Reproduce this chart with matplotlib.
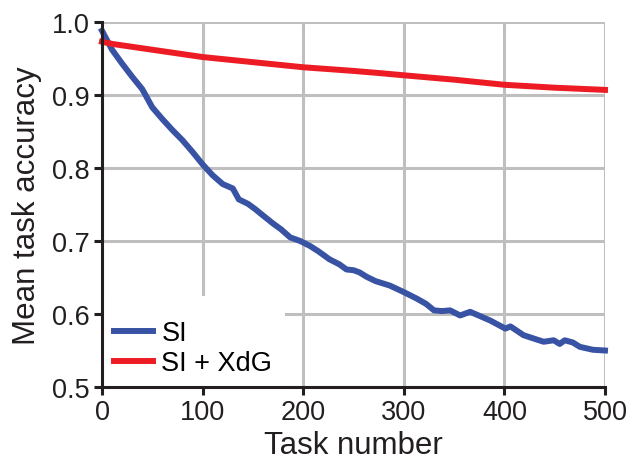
import matplotlib
matplotlib.use("Agg")
import matplotlib.pyplot as plt
from matplotlib.patches import Rectangle

plt.rcParams['font.family'] = ['Liberation Sans', 'DejaVu Sans']

# SI (blue) curve
si_x = [0, 5, 10, 20, 30, 40, 50, 60, 70, 80, 90, 100, 110, 120, 130, 136, 145,
        152, 160, 170, 178, 187, 197, 207, 215, 226, 236, 243, 250, 256, 263, 272,
        286, 300, 313, 322, 330, 338, 346, 356, 366, 376, 386, 401, 406, 419, 430,
        439, 449, 455, 460, 468, 475, 488, 500]
si_y = [0.988, 0.975, 0.962, 0.943, 0.925, 0.908, 0.883, 0.867, 0.852, 0.838, 0.822,
        0.805, 0.790, 0.778, 0.772, 0.757, 0.751, 0.744, 0.735, 0.724, 0.716, 0.705,
        0.700, 0.693, 0.686, 0.675, 0.668, 0.661, 0.660, 0.657, 0.651, 0.645, 0.639,
        0.630, 0.621, 0.614, 0.605, 0.604, 0.605, 0.598, 0.603, 0.597, 0.591, 0.580,
        0.583, 0.571, 0.566, 0.562, 0.564, 0.559, 0.564, 0.561, 0.555, 0.551, 0.550]

# SI + XdG (red) curve
xdg_x = [0, 10, 25, 50, 75, 100, 150, 200, 250, 276, 300, 350, 400, 450, 500]
xdg_y = [0.973, 0.970, 0.967, 0.962, 0.957, 0.952, 0.945, 0.938, 0.933, 0.930,
         0.927, 0.921, 0.914, 0.910, 0.907]

x_ticks = [0, 100, 200, 300, 400, 500]
y_ticks = [0.5, 0.6, 0.7, 0.8, 0.9, 1.0]

ink = '#231f20'
fig = plt.figure(figsize=(6.32, 4.64), dpi=100)
ax = fig.add_axes([102/632, 1-388/464, (605-102)/632, (388-23)/464])

ax.plot(si_x, si_y, color='#3953a4', lw=4.3, label='SI', clip_on=False, zorder=3)
ax.plot(xdg_x, xdg_y, color='#ed1c24', lw=4.3, label='SI + XdG', clip_on=False, zorder=3)

ax.set_xlim(0, 500)
ax.set_ylim(0.5, 1.0)
ax.set_xticks(x_ticks)
ax.set_yticks(y_ticks)
ax.set_yticklabels([f"{v:.1f}" for v in y_ticks])
ax.grid(True, color='#bfbfbf', lw=2.2)
ax.set_axisbelow(True)

# white box behind legend (hides gridlines)
ax.add_patch(Rectangle((0, 0), (285-102)/503, (388-297)/365, transform=ax.transAxes,
                       facecolor='white', edgecolor='none', zorder=2.5))

for s in ['top', 'right']:
    ax.spines[s].set_visible(False)
for s in ['left', 'bottom']:
    ax.spines[s].set_linewidth(2.2)
    ax.spines[s].set_color(ink)
    ax.spines[s].set_zorder(6)

ax.tick_params(axis='both', direction='out', length=6, width=2.2, color=ink,
               labelsize=19.5, labelcolor=ink)
ax.tick_params(axis='y', pad=3)
ax.tick_params(axis='x', pad=3)

ax.set_xlabel('Task number', fontsize=22.5, color=ink, labelpad=3)
ax.set_ylabel('Mean task accuracy', fontsize=22.5, color=ink, labelpad=7)

leg = ax.legend(loc='lower left', bbox_to_anchor=(0.024, 0.03), fontsize=19.5,
                frameon=False, handlelength=1.45, handletextpad=0.3,
                borderaxespad=0, borderpad=0, labelspacing=0.15)
for line in leg.get_lines():
    line.set_linewidth(4.3)

fig.savefig('out.png', dpi=100)
